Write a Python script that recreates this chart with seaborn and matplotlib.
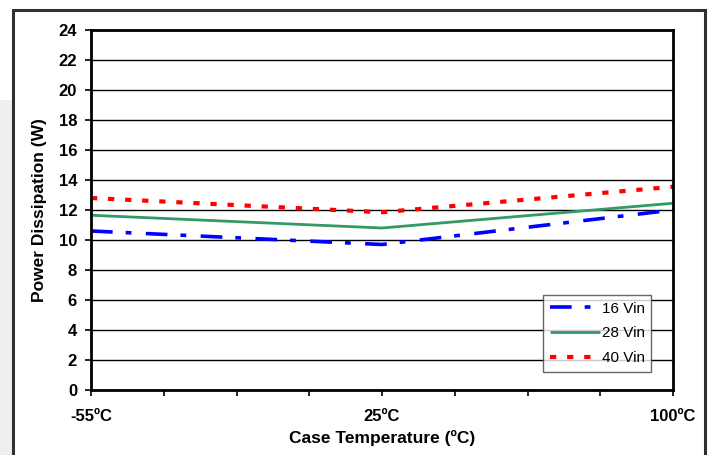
import pandas as pd
import matplotlib.pyplot as plt
import seaborn as sns
from matplotlib.patches import Rectangle

# Dados
temperaturas = ["-55ºC", "25ºC", "100ºC"]
series = ["16 Vin", "28 Vin", "40 Vin"]
vin16 = [10.6, 9.7, 12.0]
vin28 = [11.65, 10.8, 12.45]
vin40 = [12.8, 11.85, 13.55]

df = pd.DataFrame({
    "pos": list(range(len(temperaturas))) * 3,
    "Potencia": vin16 + vin28 + vin40,
    "Serie": [s for s in series for _ in temperaturas],
})

sns.set_theme(style="white")
plt.rcParams["font.family"] = ["Liberation Sans", "DejaVu Sans"]
plt.rcParams["text.color"] = "black"
plt.rcParams["axes.labelcolor"] = "black"
plt.rcParams["xtick.color"] = "black"
plt.rcParams["ytick.color"] = "black"

cores = {"16 Vin": "#0000FF", "28 Vin": "#339966", "40 Vin": "#FF0000"}
tracos = {"16 Vin": (6, 3.6, 1.6, 4), "28 Vin": "", "40 Vin": (1.5, 2.6)}
larguras = {"16 Vin": 2.6, "28 Vin": 2.0, "40 Vin": 3.0}

fig = plt.figure(figsize=(7.1, 4.55), dpi=100)
fig.patch.set_facecolor("white")
# faixa cinza à esquerda e moldura do gráfico
fig.patches.append(Rectangle((0, 0), 13 / 710, 1 - 100 / 455, transform=fig.transFigure,
                             facecolor="#efefef", edgecolor="none", zorder=0))
fig.patches.append(Rectangle((13 / 710, -0.05), 692 / 710, 1.05 - 10 / 455,
                             transform=fig.transFigure, facecolor="white",
                             edgecolor="#303030", linewidth=2.2, zorder=1))

ax = fig.add_axes([91 / 710, 65 / 455, 582 / 710, 360 / 455])
ax.set_zorder(2)

for s in series:
    sub = df[df["Serie"] == s]
    sns.lineplot(data=sub, x="pos", y="Potencia", color=cores[s], ax=ax,
                 linewidth=larguras[s], label=s, dashes=False)
    linha = ax.lines[-1]
    if tracos[s]:
        linha.set_dashes(tracos[s])
    linha.set_solid_capstyle("butt")
    linha.set_dash_capstyle("butt")

ax.set_xlim(0, 2)
ax.set_ylim(0, 24)
ax.set_yticks(range(0, 25, 2))
ticks_x = [i * 0.25 for i in range(9)]
ax.set_xticks(ticks_x)
ax.set_xticklabels([temperaturas[int(t)] if t in (0, 1, 2) else "" for t in ticks_x])

ax.grid(axis="y", color="black", linewidth=1.0)
ax.grid(axis="x", visible=False)
ax.set_axisbelow(True)
for lado in ax.spines.values():
    lado.set_color("black")
    lado.set_linewidth(2.0)

ax.tick_params(axis="both", direction="out", length=4, width=1.2, color="black",
               labelsize=12, labelcolor="black", left=True, bottom=True)
ax.tick_params(axis="y", pad=6)
ax.tick_params(axis="x", pad=10)
for lbl in ax.get_xticklabels() + ax.get_yticklabels():
    lbl.set_fontweight("bold")

ax.set_xlabel("Case Temperature (ºC)", fontsize=12.5, fontweight="bold", labelpad=4)
ax.set_ylabel("Power Dissipation (W)", fontsize=12.5, fontweight="bold", labelpad=8)

leg = ax.legend(loc="lower right", bbox_to_anchor=(0.963, 0.05), fontsize=11,
                frameon=True, fancybox=False, handlelength=3.3, handletextpad=0.1,
                borderpad=0.45, labelspacing=0.7, borderaxespad=0)
leg.get_frame().set_edgecolor("#404040")
leg.get_frame().set_linewidth(1.0)
for t in leg.get_texts():
    t.set_color("black")

fig.savefig("out.png", dpi=100, facecolor=fig.get_facecolor())
plt.close(fig)
